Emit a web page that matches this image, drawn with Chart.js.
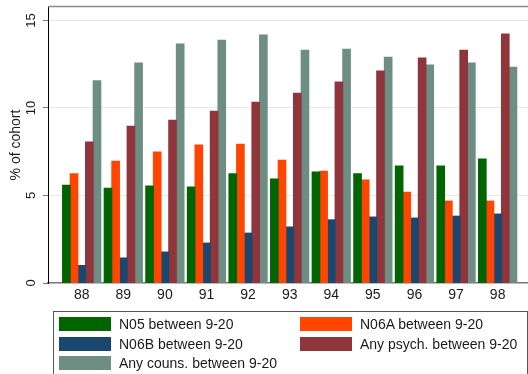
<!DOCTYPE html>
<html><head><meta charset="utf-8">
<script src="https://cdn.jsdelivr.net/npm/chart.js@4/dist/chart.umd.min.js"></script>
<style>
html,body{margin:0;padding:0;background:#fff;}
#wrap{position:relative;width:528px;height:374px;overflow:hidden;background:#fff;}
#c{position:absolute;left:0;top:0;}
#legend{position:absolute;left:53px;top:311px;width:475px;height:80px;border:1px solid #555;box-sizing:border-box;font-family:Arial,"Liberation Sans",Helvetica,sans-serif;font-size:14px;color:#1a1a1a;}
.sw{position:absolute;width:52px;height:14px;}
.lab{position:absolute;white-space:nowrap;line-height:14px;height:14px;}
</style></head><body>
<div id="wrap"><canvas id="c" width="528" height="374"></canvas><div id="legend"></div></div>
<script>
// ---- data ----
const years = [88, 89, 90, 91, 92, 93, 94, 95, 96, 97, 98];
const yearLabels = ['88', '89', '90', '91', '92', '93', '94', '95', '96', '97', '98'];
const seriesNames = ['N05 between 9-20', 'N06A between 9-20', 'N06B between 9-20', 'Any psych. between 9-20', 'Any couns. between 9-20'];
const n05    = [5.59, 5.42, 5.54, 5.48, 6.24, 5.94, 6.34, 6.24, 6.68, 6.68, 7.08];
const n06a   = [6.24, 6.96, 7.48, 7.88, 7.93, 7.02, 6.39, 5.88, 5.19, 4.68, 4.68];
const n06b   = [1.00, 1.43, 1.77, 2.28, 2.85, 3.20, 3.61, 3.77, 3.71, 3.82, 3.94];
const psych  = [8.05, 8.96, 9.30, 9.82, 10.33, 10.84, 11.49, 12.12, 12.86, 13.30, 14.23];
const couns  = [11.55, 12.57, 13.66, 13.87, 14.17, 13.30, 13.36, 12.90, 12.46, 12.57, 12.33];
const yTicks = [0, 5, 10, 15];
const yTickLabels = ['0', '5', '10', '15'];
const seriesValues = [n05, n06a, n06b, psych, couns];
const seriesColors = ['#006400', '#ff4500', '#1a476f', '#90353b', '#6e8e84'];

const FONT = 'Arial, "Liberation Sans", Helvetica, sans-serif';

// ---- legend (HTML) ----
const lg = document.getElementById('legend');
const rowTops = [5, 24.5, 44];
const colLefts = [5, 246];
seriesNames.forEach((name, i) => {
  const r = Math.floor(i / 2), c = i % 2;
  const sw = document.createElement('div');
  sw.className = 'sw';
  sw.style.left = colLefts[c] + 'px';
  sw.style.top = rowTops[r] + 'px';
  sw.style.background = seriesColors[i];
  lg.appendChild(sw);
  const lb = document.createElement('div');
  lb.className = 'lab';
  lb.style.left = (colLefts[c] + 60) + 'px';
  lb.style.top = rowTops[r] + 'px';
  lb.textContent = name;
  lg.appendChild(lb);
});

// ---- plugin: frame top line + rotated y tick labels ----
const extras = {
  id: 'extras',
  afterDraw(chart) {
    const {ctx, chartArea} = chart;
    const ys = chart.scales.y;
    ctx.save();
    ctx.strokeStyle = '#8a8a8a';
    ctx.lineWidth = 1.5;
    ctx.beginPath();
    ctx.moveTo(chartArea.left, chartArea.top - 0.5);
    ctx.lineTo(chartArea.right, chartArea.top - 0.5);
    ctx.stroke();
    ctx.fillStyle = '#1a1a1a';
    ctx.font = '13px ' + FONT;
    ctx.textAlign = 'center';
    ctx.textBaseline = 'middle';
    yTicks.forEach((v, i) => {
      const py = ys.getPixelForValue(v);
      ctx.save();
      ctx.translate(31, py);
      ctx.rotate(-Math.PI / 2);
      ctx.fillText(yTickLabels[i], 0, 0);
      ctx.restore();
    });
    ctx.restore();
  }
};

new Chart(document.getElementById('c'), {
  type: 'bar',
  data: {
    datasets: seriesNames.map((name, i) => ({
      label: name,
      data: years.map((yr, j) => ({x: yr, y: seriesValues[i][j]})),
      backgroundColor: seriesColors[i],
      borderWidth: 0,
      inflateAmount: 0.5,
      categoryPercentage: 0.92,
      barPercentage: 1.0
    }))
  },
  options: {
    responsive: false,
    animation: false,
    devicePixelRatio: 1,
    layout: {padding: {top: 7, left: 0, right: 0, bottom: 66}},
    plugins: {legend: {display: false}, tooltip: {enabled: false}},
    scales: {
      x: {
        type: 'linear',
        offset: false,
        bounds: 'data',
        min: 87.19,
        max: 98.73,
        afterBuildTicks: s => { s.ticks = years.map(v => ({value: v})); },
        afterFit: s => { s.height = 25; },
        ticks: {
          callback: v => yearLabels[years.indexOf(v)],
          font: {size: 14, family: FONT},
          color: '#1a1a1a',
          padding: 4,
          autoSkip: false,
          maxRotation: 0
        },
        grid: {display: false, drawTicks: false},
        border: {display: true, color: '#777', width: 1.5}
      },
      y: {
        min: 0,
        max: 15.77,
        afterBuildTicks: s => { s.ticks = yTicks.map(v => ({value: v})); },
        afterFit: s => { s.width = 48; },
        ticks: {display: false},
        title: {display: true, text: '% of cohort', font: {size: 14, family: FONT}, color: '#1a1a1a', padding: {top: 8, bottom: 0}},
        grid: {
          color: c => (c.tick && c.tick.value === 0) ? 'rgba(0,0,0,0)' : '#e8e8e8',
          tickColor: '#777',
          tickLength: 5,
          drawTicks: true,
          lineWidth: 1
        },
        border: {display: true, color: '#000', width: 1}
      }
    }
  },
  plugins: [extras]
});
</script>
</body></html>
